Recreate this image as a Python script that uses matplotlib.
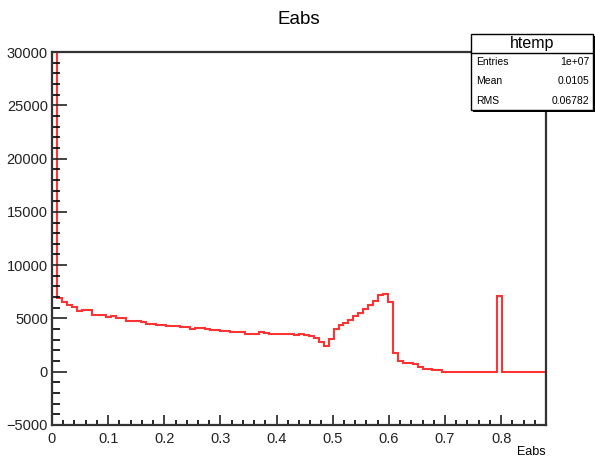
import numpy as np
import matplotlib.pyplot as plt
from matplotlib.patches import Rectangle

plt.rcParams['font.family'] = ['Liberation Sans', 'DejaVu Sans']

# histogram of Eabs, 100 bins from 0 to 0.88 (counts)
x_min, x_max = 0.0, 0.88
counts = [
    9600000, 6900, 6550, 6250, 6100, 5700, 5750, 5750, 5350, 5350,
    5300, 5100, 5200, 5050, 5000, 4800, 4800, 4750, 4650, 4450,
    4500, 4400, 4350, 4300, 4300, 4250, 4200, 4150, 4050, 4100,
    4080, 4050, 3930, 3900, 3800, 3780, 3770, 3680, 3680, 3560,
    3550, 3550, 3680, 3670, 3580, 3580, 3580, 3580, 3580, 3460,
    3580, 3400, 3380, 3150, 2800, 2400, 3080, 4030, 4400, 4560,
    4870, 5250, 5500, 5910, 6220, 6600, 7170, 7290, 6510, 1730,
    1010, 850, 850, 690, 470, 250, 250, 120, 120, 0,
    0, 0, 0, 0, 0, 0, 0, 0, 0, 0,
    7070, 0, 0, 0, 0, 0, 0, 0, 0, 0,
]
y_min, y_max = -5000, 30000

stat_name = "htemp"
stat_labels = ["Entries", "Mean", "RMS"]
stat_values = ["1e+07", "0.0105", "0.06782"]

edges = np.linspace(x_min, x_max, len(counts) + 1)

fig = plt.figure(figsize=(5.95, 4.57), dpi=100)
ax = fig.add_axes([52 / 595, 32 / 457, 494 / 595, 373 / 457])

ax.stairs(counts, edges, baseline=y_min, color="red", lw=1.5, alpha=0.8)

ax.set_xlim(x_min, x_max)
ax.set_ylim(y_min, y_max)
ax.set_xticks(np.arange(0, 0.81, 0.1))
ax.set_xticklabels(["0", "0.1", "0.2", "0.3", "0.4", "0.5", "0.6", "0.7", "0.8"])
ax.set_xticks(np.arange(0, 0.88, 0.02), minor=True)
ax.set_yticks(np.arange(-5000, 30001, 5000))
ax.set_yticks(np.arange(-5000, 30001, 1000), minor=True)

ax.tick_params(axis="x", which="major", direction="in", length=7, width=1.2,
               labelsize=10.5, pad=5, colors="#222222")
ax.tick_params(axis="x", which="minor", direction="in", length=3.5, width=1.2)
ax.tick_params(axis="y", which="major", direction="in", length=11, width=1.2,
               labelsize=10.5, pad=3, colors="#222222")
ax.tick_params(axis="y", which="minor", direction="in", length=6, width=1.2)
for s in ax.spines.values():
    s.set_linewidth(1.6)
    s.set_color("#333333")

fig.text(299 / 595, 1 - 20 / 457, "Eabs", ha="center", va="center", fontsize=13.5)
fig.text(546 / 595, 1 - 452 / 457, "Eabs", ha="right", va="center", fontsize=9)

# stats box in the top right corner
bx0, bx1 = 471, 593
by0, by1, bsep = 34, 110, 53
W, H = 595, 457
fig.patches.append(Rectangle((bx0 / W + 0.003, 1 - (by1 + 2) / H), (bx1 - bx0) / W,
                             (by1 - by0) / H, transform=fig.transFigure,
                             facecolor="black", edgecolor="none", zorder=5))
fig.patches.append(Rectangle((bx0 / W, 1 - by1 / H), (bx1 - bx0) / W, (by1 - by0) / H,
                             transform=fig.transFigure, facecolor="white",
                             edgecolor="black", lw=1, zorder=6))
fig.add_artist(plt.Line2D([bx0 / W, bx1 / W], [1 - bsep / H, 1 - bsep / H],
                          transform=fig.transFigure, color="black", lw=1, zorder=7))
fig.text((bx0 + bx1) / 2 / W, 1 - (by0 + bsep) / 2 / H, stat_name, ha="center",
         va="center", fontsize=11.5, zorder=8)
row_h = (by1 - bsep) / 3
for i, (lab, val) in enumerate(zip(stat_labels, stat_values)):
    yc = 1 - (bsep + row_h * (i + 0.5)) / H
    fig.text((bx0 + 5) / W, yc, lab, ha="left", va="center", fontsize=7.5, zorder=8)
    fig.text((bx1 - 4) / W, yc, val, ha="right", va="center", fontsize=7.5, zorder=8)

fig.savefig("out.png", dpi=100)
